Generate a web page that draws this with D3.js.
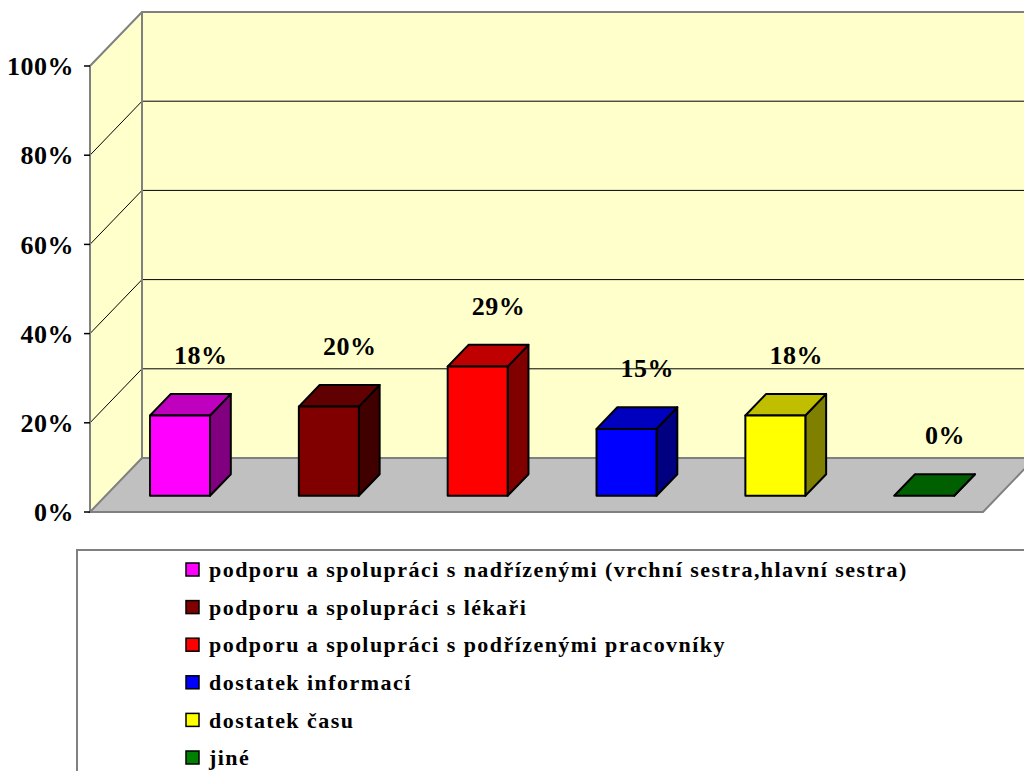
<!DOCTYPE html>
<html>
<head>
<meta charset="utf-8">
<script src="https://cdn.jsdelivr.net/npm/d3@7"></script>
<style>
  html, body { margin: 0; padding: 0; background: #fff; }
  svg { display: block; }
  text { font-family: "Liberation Serif", "Times New Roman", serif; font-weight: bold; fill: #000; }
</style>
</head>
<body>
<svg id="chart" width="1024" height="771"></svg>
<script>
// Categories and their shares
const categories = [
  "podporu a spolupráci s nadřízenými (vrchní sestra,hlavní sestra)",
  "podporu a spolupráci s lékaři",
  "podporu a spolupráci s podřízenými pracovníky",
  "dostatek informací",
  "dostatek času",
  "jiné"
];
const values = [0.18, 0.20, 0.29, 0.15, 0.18, 0.00];
const colors = ["#FF00FF", "#800000", "#FF0000", "#0000FF", "#FFFF00", "#008000"];
const yTicks = [0, 0.2, 0.4, 0.6, 0.8, 1.0];

const svg = d3.select("#chart");

// Plot frame (front plane) and the depth vector of the 3-D box
const plotLeft = 90, plotRight = 983, plotBottom = 512, plotTop = 66;
const depthX = 52, depthY = 54;
const barD0 = 0.3, barD1 = 0.7;   // bar depth inside the floor

const y = d3.scaleLinear().domain([0, 1]).range([plotBottom, plotTop]);
const x = d3.scaleBand().domain(categories).range([plotLeft, plotRight]).paddingInner(0).paddingOuter(0);
const barW = x.bandwidth() * 0.403;

const P = (px, py, d) => [px + depthX * d, py - depthY * d];
const poly = pts => "M" + pts.map(p => p.join(",")).join("L") + "Z";
const shade = (c, k) => { const r = d3.rgb(c); return d3.rgb(r.r * k, r.g * k, r.b * k).formatHex(); };

const wall = svg.append("g");
const yMax = y(1), y0 = y(0);
const farRight = plotRight + 200;

// Left wall
wall.append("path")
  .attr("d", poly([P(plotLeft, yMax, 0), P(plotLeft, yMax, 1), P(plotLeft, y0, 1), P(plotLeft, y0, 0)]))
  .attr("fill", "#FFFFCC");
// Back wall
wall.append("path")
  .attr("d", poly([P(plotLeft, yMax, 1), P(farRight, yMax, 1), P(farRight, y0, 1), P(plotLeft, y0, 1)]))
  .attr("fill", "#FFFFCC");
// Floor
wall.append("path")
  .attr("d", poly([P(plotLeft, y0, 0), P(plotLeft, y0, 1), P(plotRight, y0, 1), P(plotRight, y0, 0)]))
  .attr("fill", "#C0C0C0");

// Gridlines on the walls
yTicks.filter(t => t > 0 && t < 1).forEach(t => {
  const a = P(plotLeft, y(t), 0), b = P(plotLeft, y(t), 1), c = P(farRight, y(t), 1);
  wall.append("path").attr("d", `M${a}L${b}L${c}`)
    .attr("fill", "none").attr("stroke", "#000").attr("stroke-width", 1);
});

// Wall and floor edges
const edge = "#808080";
wall.append("path")
  .attr("d", `M${P(plotLeft, y0, 0)}L${P(plotLeft, yMax, 0)}L${P(plotLeft, yMax, 1)}L${P(farRight, yMax, 1)}`)
  .attr("fill", "none").attr("stroke", edge).attr("stroke-width", 2);
wall.append("path")
  .attr("d", `M${P(plotLeft, yMax, 1)}L${P(plotLeft, y0, 1)}L${P(farRight, y0, 1)}`)
  .attr("fill", "none").attr("stroke", edge).attr("stroke-width", 2);
wall.append("path")
  .attr("d", `M${P(plotLeft, y0, 1)}L${P(plotLeft, y0, 0)}L${P(plotRight, y0, 0)}L${P(plotRight, y0, 1)}`)
  .attr("fill", "none").attr("stroke", edge).attr("stroke-width", 2);

// Y axis ticks and labels
const axis = svg.append("g");
axis.selectAll("line").data(yTicks).join("line")
  .attr("x1", plotLeft - 6).attr("x2", plotLeft)
  .attr("y1", d => y(d)).attr("y2", d => y(d))
  .attr("stroke", "#000").attr("stroke-width", 1.5);
axis.selectAll("text").data(yTicks).join("text")
  .attr("x", plotLeft - 16).attr("y", d => y(d))
  .attr("dy", "0.35em")
  .attr("text-anchor", "end")
  .attr("font-size", 26)
  .attr("letter-spacing", "0.5px")
  .text(d3.format(".0%"));

// Bars as 3-D boxes
const bars = svg.append("g");
categories.forEach((c, i) => {
  const v = values[i];
  const xf = x(c) + (x.bandwidth() - barW) / 2;
  const yt = y(v), yb = y(0);
  const col = colors[i];
  const g = bars.append("g")
    .attr("stroke", "#000").attr("stroke-width", 2).attr("stroke-linejoin", "round");
  // side face
  g.append("path")
    .attr("d", poly([P(xf + barW, yt, barD0), P(xf + barW, yt, barD1), P(xf + barW, yb, barD1), P(xf + barW, yb, barD0)]))
    .attr("fill", shade(col, 0.5));
  // top face
  g.append("path")
    .attr("d", poly([P(xf, yt, barD0), P(xf, yt, barD1), P(xf + barW, yt, barD1), P(xf + barW, yt, barD0)]))
    .attr("fill", shade(col, 0.75));
  // front face
  if (v > 0) {
    const a = P(xf, yt, barD0), b = P(xf + barW, yb, barD0);
    g.append("rect")
      .attr("x", a[0]).attr("y", a[1])
      .attr("width", b[0] - a[0]).attr("height", b[1] - a[1])
      .attr("fill", col);
  }
  // value label above the back edge of the box
  const lp = P(xf + barW / 2, yt, barD1);
  bars.append("text")
    .attr("x", lp[0])
    .attr("y", lp[1] - 30)
    .attr("text-anchor", "middle")
    .attr("font-size", 26)
    .attr("letter-spacing", "0.5px")
    .text(d3.format(".0%")(v));
});

// Legend
const legend = svg.append("g");
legend.append("rect")
  .attr("x", 77).attr("y", 550).attr("width", 1000).attr("height", 300)
  .attr("fill", "#fff").attr("stroke", "#808080").attr("stroke-width", 2);
const rowY = d3.scalePoint().domain(categories).range([570, 758]);
const items = legend.selectAll("g.item").data(categories).join("g")
  .attr("class", "item")
  .attr("transform", d => `translate(186,${rowY(d)})`);
items.append("rect")
  .attr("x", 0).attr("y", -7).attr("width", 13).attr("height", 13)
  .attr("fill", (d, i) => colors[i]).attr("stroke", "#000").attr("stroke-width", 1.5);
items.append("text")
  .attr("x", 23).attr("y", 0).attr("dy", "0.33em")
  .attr("font-size", 22)
  .attr("letter-spacing", "1.45px")
  .text(d => d);
</script>
</body>
</html>
